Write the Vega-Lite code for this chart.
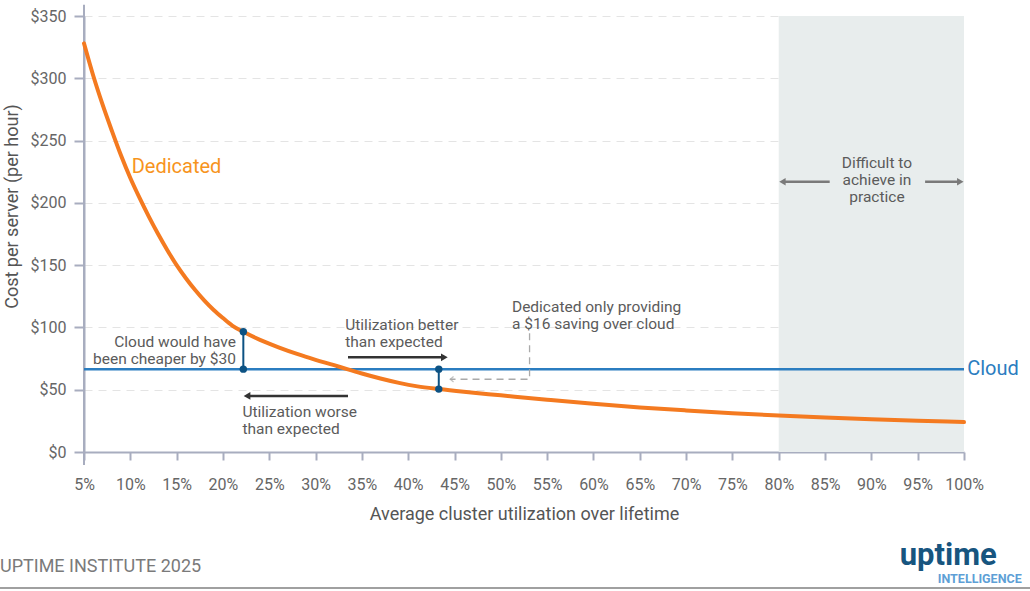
{
  "$schema": "https://vega.github.io/schema/vega-lite/v6.json",
  "width": 880,
  "height": 436,
  "autosize": {"type": "none"},
  "padding": {"left": 84, "top": 16, "right": 66, "bottom": 139},
  "background": "white",
  "config": {
    "view": {"stroke": null},
    "font": "Roboto",
    "text": {"font": "Roboto"}
  },
  "datasets": {
    "dedicated": [
      {"u": 5, "v": 328}, {"u": 6, "v": 302}, {"u": 7, "v": 279}, {"u": 8, "v": 258},
      {"u": 9, "v": 238}, {"u": 10, "v": 220}, {"u": 11, "v": 204}, {"u": 12, "v": 189},
      {"u": 13, "v": 175}, {"u": 14, "v": 162}, {"u": 15, "v": 150}, {"u": 16, "v": 139.5},
      {"u": 17, "v": 130}, {"u": 18, "v": 121.5}, {"u": 19, "v": 114}, {"u": 20, "v": 107.5},
      {"u": 21, "v": 101.5}, {"u": 22.2, "v": 96.5}, {"u": 24, "v": 90}, {"u": 26, "v": 84},
      {"u": 28, "v": 78.7}, {"u": 30, "v": 74}, {"u": 32, "v": 69.7}, {"u": 33.4, "v": 66.5},
      {"u": 35, "v": 63}, {"u": 37, "v": 59}, {"u": 39, "v": 55.5}, {"u": 41, "v": 52.7},
      {"u": 43.3, "v": 50.5}, {"u": 46, "v": 48.3}, {"u": 50, "v": 45.5}, {"u": 55, "v": 42},
      {"u": 60, "v": 38.7}, {"u": 65, "v": 35.8}, {"u": 70, "v": 33.4}, {"u": 75, "v": 31.2},
      {"u": 80, "v": 29.3}, {"u": 85, "v": 27.7}, {"u": 90, "v": 26.3}, {"u": 95, "v": 25.1},
      {"u": 100, "v": 24}
    ],
    "cloud": [{"u": 5, "u2": 100, "v": 66.5}],
    "zone": [{"u": 80, "u2": 100, "v": 0, "v2": 350}],
    "gaps": [{"u": 22.2, "v": 96.5, "v2": 66.5}, {"u": 43.3, "v": 66.5, "v2": 50.5}],
    "dots": [{"u": 22.2, "v": 96.5}, {"u": 22.2, "v": 66.5}, {"u": 43.3, "v": 66.5}, {"u": 43.3, "v": 50.5}],
    "blackArrows": [{"u": 33.5, "u2": 43.6, "v": 76}, {"u": 33.5, "u2": 22.8, "v": 45}],
    "headsRight": [{"u": 43.9, "v": 76}],
    "headsLeft": [{"u": 22.6, "v": 45}],
    "grayArrows": [{"u": 85.5, "u2": 80.6, "v": 217}, {"u": 95.8, "u2": 99.4, "v": 217}],
    "grayHeadsLeft": [{"u": 80.4, "v": 217}],
    "grayHeadsRight": [{"u": 99.6, "v": 217}],
    "connector": [{"seq": 1, "u": 53.1, "v": 95.3}, {"seq": 2, "u": 53.1, "v": 58.4}, {"seq": 3, "u": 44.5, "v": 58.4}],
    "connectorHead": [{"u": 44.6, "v": 58.4}],
    "yline": [{"u": 5, "v": -10.5, "v2": 359}],
    "footline": [{"u": -4.1, "u2": 107.2, "v": -109.2}],
    "notesRight": [{"u": 21.4, "v": 88.6, "label": ["Cloud would have", "been cheaper by $30"]}],
    "notesLeft": [
      {"u": 33.2, "v": 101.9, "label": ["Utilization better", "than expected"]},
      {"u": 22.1, "v": 32.4, "label": ["Utilization worse", "than expected"]},
      {"u": 51.2, "v": 116.6, "label": ["Dedicated only providing", "a $16 saving over cloud"]}
    ],
    "notesCenter": [{"u": 90.6, "v": 232.2, "label": ["Difficult to", "achieve in", "practice"]}],
    "dedLabel": [{"u": 10.15, "v": 229, "label": "Dedicated"}],
    "cloudLabel": [{"u": 100.35, "v": 66.5, "label": "Cloud"}],
    "source": [{"u": -4.07, "v": -92.3, "label": "UPTIME INSTITUTE 2025"}],
    "logo": [{"u": 98.3, "v": -90.7, "label": "uptime"}],
    "logoSub": [{"u": 101.7, "v": -102, "label": "INTELLIGENCE"}]
  },
  "layer": [
    {
      "data": {"name": "zone"},
      "mark": {"type": "rect", "color": "#e8eded"},
      "encoding": {
        "x": {
          "field": "u", "type": "quantitative",
          "scale": {"domain": [5, 100], "nice": false, "zero": false},
          "axis": {
            "values": [5,10,15,20,25,30,35,40,45,50,55,60,65,70,75,80,85,90,95,100],
            "labelExpr": "datum.value + '%'",
            "title": "Average cluster utilization over lifetime",
            "titleFontSize": 18, "titleFontWeight": "normal", "titleColor": "#555555", "titlePadding": 13,
            "labelFontSize": 16, "labelColor": "#666666", "labelPadding": 16,
            "domainColor": "#a8adbf", "domainWidth": 2,
            "tickColor": "#a8adbf", "tickWidth": 2, "tickSize": 8,
            "grid": false, "labelFlush": false
          }
        },
        "x2": {"field": "u2"},
        "y": {
          "field": "v", "type": "quantitative",
          "scale": {"domain": [0, 350], "nice": false},
          "axis": {
            "values": [0,50,100,150,200,250,300,350],
            "labelExpr": "'$' + datum.value",
            "title": "Cost per server (per hour)",
            "titleFontSize": 18, "titleFontWeight": "normal", "titleColor": "#555555",
            "titleY": 190, "titleX": -63,
            "labelFontSize": 16, "labelColor": "#666666", "labelPadding": 8,
            "domainColor": "#a8adbf", "domainWidth": 2,
            "tickColor": "#a8adbf", "tickWidth": 2, "tickSize": 10,
            "grid": true, "gridColor": "#e4e4e4", "gridDash": [8, 6], "gridWidth": 1
          }
        },
        "y2": {"field": "v2"}
      }
    },
    {
      "data": {"name": "yline"},
      "mark": {"type": "rule", "color": "#a8adbf", "strokeWidth": 2},
      "encoding": {"x": {"field": "u", "type": "quantitative"}, "y": {"field": "v", "type": "quantitative"}, "y2": {"field": "v2"}}
    },
    {
      "data": {"name": "footline"},
      "mark": {"type": "rule", "color": "#a0a0a0", "strokeWidth": 2},
      "encoding": {"x": {"field": "u", "type": "quantitative"}, "x2": {"field": "u2"}, "y": {"field": "v", "type": "quantitative"}}
    },
    {
      "data": {"name": "cloud"},
      "mark": {"type": "rule", "color": "#2b7dc0", "strokeWidth": 2.5},
      "encoding": {"x": {"field": "u", "type": "quantitative"}, "x2": {"field": "u2"}, "y": {"field": "v", "type": "quantitative"}}
    },
    {
      "data": {"name": "connector"},
      "mark": {"type": "line", "color": "#aaaaaa", "strokeWidth": 1.3, "strokeDash": [7, 5]},
      "encoding": {"x": {"field": "u", "type": "quantitative"}, "y": {"field": "v", "type": "quantitative"}, "order": {"field": "seq"}}
    },
    {
      "data": {"name": "connectorHead"},
      "mark": {"type": "point", "shape": "M1,-1L-0.2,0L1,1", "filled": false, "stroke": "#aaaaaa", "strokeWidth": 1.3, "size": 30},
      "encoding": {"x": {"field": "u", "type": "quantitative"}, "y": {"field": "v", "type": "quantitative"}}
    },
    {
      "data": {"name": "dedicated"},
      "mark": {"type": "line", "color": "#f47a20", "strokeWidth": 4, "interpolate": "monotone", "strokeCap": "round"},
      "encoding": {"x": {"field": "u", "type": "quantitative"}, "y": {"field": "v", "type": "quantitative"}}
    },
    {
      "data": {"name": "gaps"},
      "mark": {"type": "rule", "color": "#0d5283", "strokeWidth": 2},
      "encoding": {"x": {"field": "u", "type": "quantitative"}, "y": {"field": "v", "type": "quantitative"}, "y2": {"field": "v2"}}
    },
    {
      "data": {"name": "dots"},
      "mark": {"type": "point", "filled": true, "color": "#0d5283", "size": 55, "opacity": 1},
      "encoding": {"x": {"field": "u", "type": "quantitative"}, "y": {"field": "v", "type": "quantitative"}}
    },
    {
      "data": {"name": "blackArrows"},
      "mark": {"type": "rule", "color": "#333333", "strokeWidth": 2.5},
      "encoding": {"x": {"field": "u", "type": "quantitative"}, "x2": {"field": "u2"}, "y": {"field": "v", "type": "quantitative"}}
    },
    {
      "data": {"name": "headsRight"},
      "mark": {"type": "point", "shape": "triangle-right", "filled": true, "color": "#333333", "size": 60, "opacity": 1},
      "encoding": {"x": {"field": "u", "type": "quantitative"}, "y": {"field": "v", "type": "quantitative"}}
    },
    {
      "data": {"name": "headsLeft"},
      "mark": {"type": "point", "shape": "triangle-left", "filled": true, "color": "#333333", "size": 60, "opacity": 1},
      "encoding": {"x": {"field": "u", "type": "quantitative"}, "y": {"field": "v", "type": "quantitative"}}
    },
    {
      "data": {"name": "grayArrows"},
      "mark": {"type": "rule", "color": "#7a7a7a", "strokeWidth": 2.5},
      "encoding": {"x": {"field": "u", "type": "quantitative"}, "x2": {"field": "u2"}, "y": {"field": "v", "type": "quantitative"}}
    },
    {
      "data": {"name": "grayHeadsLeft"},
      "mark": {"type": "point", "shape": "triangle-left", "filled": true, "color": "#7a7a7a", "size": 55, "opacity": 1},
      "encoding": {"x": {"field": "u", "type": "quantitative"}, "y": {"field": "v", "type": "quantitative"}}
    },
    {
      "data": {"name": "grayHeadsRight"},
      "mark": {"type": "point", "shape": "triangle-right", "filled": true, "color": "#7a7a7a", "size": 55, "opacity": 1},
      "encoding": {"x": {"field": "u", "type": "quantitative"}, "y": {"field": "v", "type": "quantitative"}}
    },
    {
      "data": {"name": "notesRight"},
      "mark": {"type": "text", "align": "right", "baseline": "middle", "fontSize": 15.5, "lineHeight": 17.5, "color": "#5b5b5b"},
      "encoding": {"x": {"field": "u", "type": "quantitative"}, "y": {"field": "v", "type": "quantitative"}, "text": {"field": "label"}}
    },
    {
      "data": {"name": "notesLeft"},
      "mark": {"type": "text", "align": "left", "baseline": "middle", "fontSize": 15.5, "lineHeight": 17.3, "color": "#5b5b5b"},
      "encoding": {"x": {"field": "u", "type": "quantitative"}, "y": {"field": "v", "type": "quantitative"}, "text": {"field": "label"}}
    },
    {
      "data": {"name": "notesCenter"},
      "mark": {"type": "text", "align": "center", "baseline": "middle", "fontSize": 15.5, "lineHeight": 17.3, "color": "#5b5b5b"},
      "encoding": {"x": {"field": "u", "type": "quantitative"}, "y": {"field": "v", "type": "quantitative"}, "text": {"field": "label"}}
    },
    {
      "data": {"name": "dedLabel"},
      "mark": {"type": "text", "align": "left", "baseline": "middle", "fontSize": 20, "color": "#f7941d"},
      "encoding": {"x": {"field": "u", "type": "quantitative"}, "y": {"field": "v", "type": "quantitative"}, "text": {"field": "label"}}
    },
    {
      "data": {"name": "cloudLabel"},
      "mark": {"type": "text", "align": "left", "baseline": "middle", "fontSize": 20, "color": "#2b7dc0"},
      "encoding": {"x": {"field": "u", "type": "quantitative"}, "y": {"field": "v", "type": "quantitative"}, "text": {"field": "label"}}
    },
    {
      "data": {"name": "source"},
      "mark": {"type": "text", "align": "left", "baseline": "middle", "fontSize": 18, "color": "#7a7a7a"},
      "encoding": {"x": {"field": "u", "type": "quantitative"}, "y": {"field": "v", "type": "quantitative"}, "text": {"field": "label"}}
    },
    {
      "data": {"name": "logo"},
      "mark": {"type": "text", "align": "center", "baseline": "alphabetic", "fontSize": 31, "fontWeight": "bold", "color": "#17557f"},
      "encoding": {"x": {"field": "u", "type": "quantitative"}, "y": {"field": "v", "type": "quantitative"}, "text": {"field": "label"}}
    },
    {
      "data": {"name": "logoSub"},
      "mark": {"type": "text", "align": "center", "baseline": "middle", "fontSize": 12.5, "fontWeight": "bold", "color": "#5e9fd6"},
      "encoding": {"x": {"field": "u", "type": "quantitative"}, "y": {"field": "v", "type": "quantitative"}, "text": {"field": "label"}}
    }
  ]
}
